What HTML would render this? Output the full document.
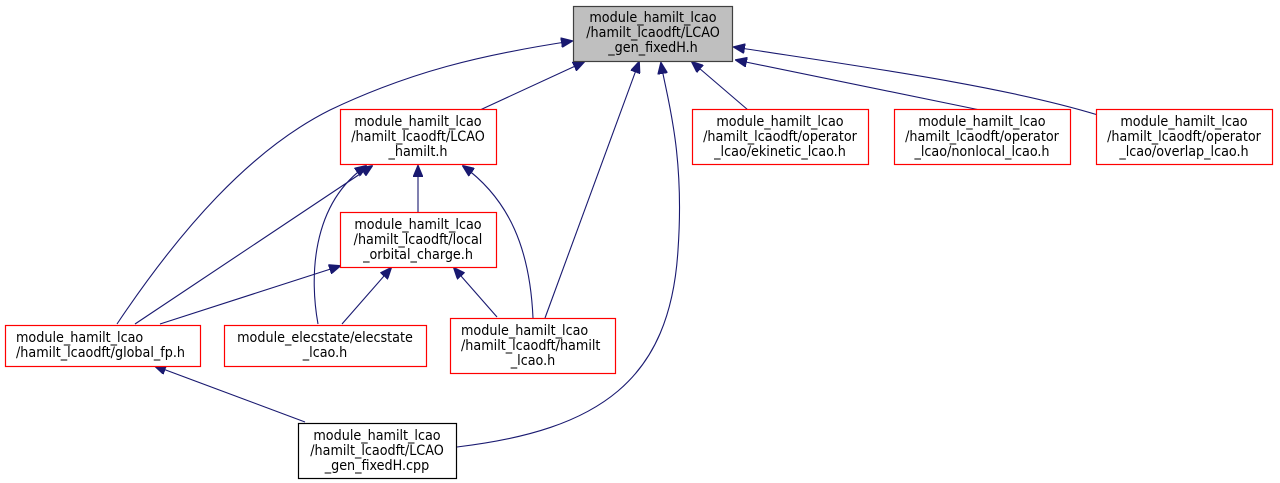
<!DOCTYPE html>
<html><head><meta charset="utf-8"><style>
html,body{margin:0;padding:0;background:#fff;}
svg{display:block;}
text{font-family:"DejaVu Sans Condensed","DejaVu Sans","Liberation Sans",sans-serif;font-size:14.2px;fill:#000;}
</style></head><body>
<svg width="1280" height="483" viewBox="0 0 1280 483" xmlns="http://www.w3.org/2000/svg">
<defs>
<marker id="a" markerWidth="12" markerHeight="10" refX="11" refY="5" orient="auto" markerUnits="userSpaceOnUse">
<path d="M0,0 L12,5 L0,10 Z" fill="#191970" stroke="#191970"/>
</marker>
</defs>
<g fill="none" stroke="#191970" stroke-width="1.1" marker-end="url(#a)">
<path d="M117,324 C180,230 250,150 330,110 C410,72 480,55 572,41"/>
<path d="M480,110 L584,62"/>
<path d="M545,318 L639,62"/>
<path d="M457,447 C600,430 670,380 678,250 C685,150 666,95 661,63"/>
<path d="M748,110 L692,62"/>
<path d="M980,110 L736,60"/>
<path d="M1098,115 C1000,85 850,65 734,47"/>
<path d="M135,324 L372,166"/>
<path d="M318,324 C310,280 310,205 366,166"/>
<path d="M418,212 L418,166"/>
<path d="M533,318 C530,250 510,200 463,166"/>
<path d="M160,324 L340,266"/>
<path d="M342,324 L391,268"/>
<path d="M497,317 L454,268"/>
<path d="M305,422 L155,366"/>
</g>
<g stroke-width="1.2">
<rect x="573.5" y="6.5" width="159" height="55" fill="#bfbfbf" stroke="#404040"/>
<rect x="340.5" y="109.5" width="156" height="55" fill="#fff" stroke="#ff0000"/>
<rect x="692.5" y="109.5" width="176" height="55" fill="#fff" stroke="#ff0000"/>
<rect x="894.5" y="109.5" width="176" height="55" fill="#fff" stroke="#ff0000"/>
<rect x="1096.5" y="109.5" width="176" height="55" fill="#fff" stroke="#ff0000"/>
<rect x="340.5" y="212.5" width="156" height="55" fill="#fff" stroke="#ff0000"/>
<rect x="5.5" y="325.5" width="195" height="41" fill="#fff" stroke="#ff0000"/>
<rect x="224.5" y="325.5" width="202" height="41" fill="#fff" stroke="#ff0000"/>
<rect x="450.5" y="318.5" width="165" height="55" fill="#fff" stroke="#ff0000"/>
<rect x="298.5" y="423.5" width="158" height="55" fill="#fff" stroke="#000"/>
</g>
<g text-anchor="middle">
<text x="653" y="22">module_hamilt_lcao</text>
<text x="653" y="37">/hamilt_lcaodft/LCAO</text>
<text x="653" y="52">_gen_fixedH.h</text>

<text x="418" y="126">module_hamilt_lcao</text>
<text x="418" y="141">/hamilt_lcaodft/LCAO</text>
<text x="418" y="156">_hamilt.h</text>

<text x="780" y="126">module_hamilt_lcao</text>
<text x="780" y="141">/hamilt_lcaodft/operator</text>
<text x="780" y="156">_lcao/ekinetic_lcao.h</text>

<text x="982" y="126">module_hamilt_lcao</text>
<text x="982" y="141">/hamilt_lcaodft/operator</text>
<text x="982" y="156">_lcao/nonlocal_lcao.h</text>

<text x="1184" y="126">module_hamilt_lcao</text>
<text x="1184" y="141">/hamilt_lcaodft/operator</text>
<text x="1184" y="156">_lcao/overlap_lcao.h</text>

<text x="418" y="229">module_hamilt_lcao</text>
<text x="418" y="244">/hamilt_lcaodft/local</text>
<text x="418" y="259">_orbital_charge.h</text>

<text x="325" y="342">module_elecstate/elecstate</text>
<text x="325" y="357">_lcao.h</text>

<text x="377" y="440">module_hamilt_lcao</text>
<text x="377" y="455">/hamilt_lcaodft/LCAO</text>
<text x="377" y="470">_gen_fixedH.cpp</text>
</g>
<text x="16" y="342">module_hamilt_lcao</text>
<text x="16" y="357">/hamilt_lcaodft/global_fp.h</text>
<text x="461" y="335">module_hamilt_lcao</text>
<text x="461" y="350">/hamilt_lcaodft/hamilt</text>
<text x="533" y="365" text-anchor="middle">_lcao.h</text>
</svg>
</body></html>
